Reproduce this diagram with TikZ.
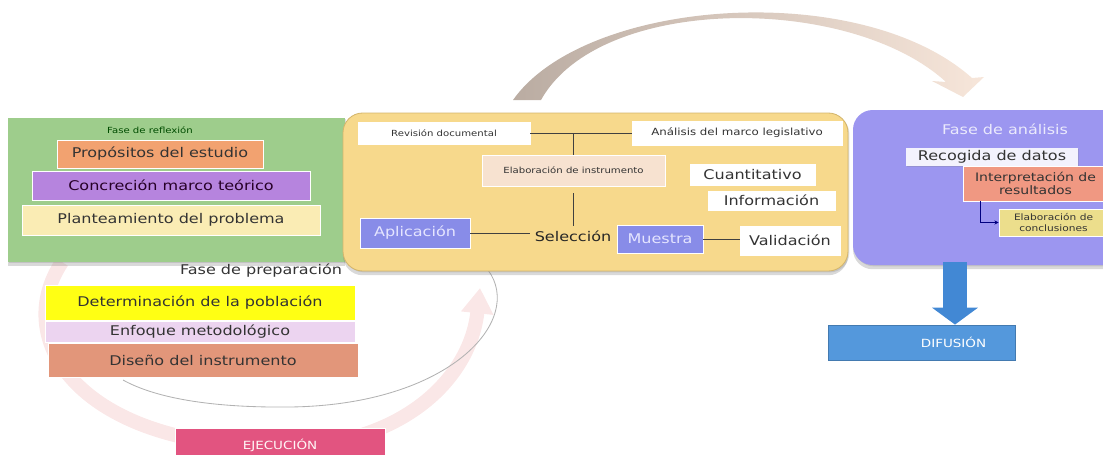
\documentclass[tikz,border=0pt]{standalone}
\usepackage{fontspec}
\setmainfont{DejaVu Sans}[FakeStretch=1.2]
\usetikzlibrary{arrows.meta,shadows}

\definecolor{reflexGreen}{RGB}{158,205,140}
\definecolor{propOrange}{RGB}{242,162,112}
\definecolor{concPurple}{RGB}{182,132,222}
\definecolor{plantCream}{RGB}{250,236,180}
\definecolor{poblYellow}{RGB}{255,255,20}
\definecolor{enfLilac}{RGB}{236,212,240}
\definecolor{disSalmon}{RGB}{226,150,122}
\definecolor{ejecPink}{RGB}{226,84,128}
\definecolor{selYellow}{RGB}{247,217,140}
\definecolor{selBorder}{RGB}{212,182,108}
\definecolor{elabPeach}{RGB}{247,226,208}
\definecolor{aplBlue}{RGB}{136,140,232}
\definecolor{analPurple}{RGB}{156,150,240}
\definecolor{interpSalmon}{RGB}{240,152,130}
\definecolor{conclKhaki}{RGB}{236,222,140}
\definecolor{difBlue}{RGB}{84,152,220}
\definecolor{arrBlue}{RGB}{66,136,212}
\definecolor{pinkArc}{RGB}{250,231,231}
\definecolor{topArcStart}{RGB}{186,172,162}
\definecolor{topArcEnd}{RGB}{247,230,218}

\newcommand{\itemsiz}{\fontsize{9.5}{11}\selectfont}
\newcommand{\smallsiz}{\fontsize{7}{8.5}\selectfont}
\newcommand{\tinysiz}{\fontsize{6}{7}\selectfont}
\newcommand{\capsiz}{\fontsize{8}{9}\selectfont}

% box from (x1,y1) to (x2,y2), coordinates in pixels
\newcommand{\itemBox}[7][]{
    \node[itembox, #1,
          minimum width={(#5-#3)*0.025cm},
          minimum height={(#6-#4)*0.025cm}] (#2) at ({(#3+#5)/2},{(#4+#6)/2}) {#7};
}

\tikzset{
    itembox/.style={draw=white, line width=0.6pt, inner sep=0pt, align=center,
                    font=\itemsiz, text=black!80,
                    drop shadow={opacity=0.25, shadow xshift=1pt, shadow yshift=-1pt}},
    panel/.style={draw=none,
                  drop shadow={opacity=0.3, shadow xshift=0pt, shadow yshift=-3pt}},
    link/.style={black!75, line width=0.6pt}
}

\begin{document}
\begin{tikzpicture}[x=0.025cm,y=-0.025cm]
    \useasboundingbox (0,0) rectangle (1103,454);
    \clip (0,0) rectangle (1103,454);

    % cycle arrow and curve behind the left part
    \draw[line width=10pt, pinkArc, -{Triangle[width=22pt,length=18pt]}]
        (62,262) .. controls (10,340) and (80,447) .. (280,447)
                 .. controls (400,447) and (470,380) .. (480,288);
    \draw[gray!60, line width=0.6pt] (488,270) .. controls (525,320) and (450,405) .. (290,407)
                                     .. controls (200,408) and (150,395) .. (123,380);

    \itemBox[panel, fill=reflexGreen]{reflexion}{8}{118}{345}{262}{}
    \itemBox[panel, fill=selYellow, draw=selBorder, rounded corners=14pt]{seleccion}{343}{113}{848}{271}{}
    \itemBox[panel, fill=analPurple, rounded corners=14pt]{analisis}{853}{110}{1160}{265}{}

    % arrow over the top
    \shade[left color=topArcStart, middle color=gray!25, right color=topArcEnd]
        (513,100) .. controls (585,-2) and (860,-22) .. (972,78)
        -- (984,77) -- (963,97) -- (932,81) -- (946,82)
        .. controls (850,-6) and (600,-6) .. (541,100) -- cycle;

    % Fase de reflexion
    \node[font=\tinysiz, text=green!30!black] (reflexTitle) at (150,130) {Fase de reflexión};
    \itemBox[fill=propOrange]{propositos}{57}{140}{263}{168}{Propósitos del estudio}
    \itemBox[fill=concPurple, text=black!70!violet]{concrecion}{32}{171}{310}{200}{Concreción marco teórico}
    \itemBox[fill=plantCream]{planteamiento}{22}{205}{320}{235}{Planteamiento del problema}

    % Fase de preparacion
    \node[anchor=east, font=\itemsiz, text=black!80] (prepTitle) at (347,271) {Fase de preparación};
    \itemBox[fill=poblYellow]{poblacion}{45}{285}{355}{320}{Determinación de la población}
    \itemBox[fill=enfLilac]{enfoque}{45}{321}{355}{342}{Enfoque metodológico}
    \itemBox[fill=disSalmon]{diseno}{48}{343}{358}{377}{Diseño del instrumento}

    \itemBox[fill=ejecPink, font=\capsiz, text=white!85!pink]{ejecucion}{175}{428}{385}{462}{EJECUCIÓN}

    % panel of the selection
    \itemBox[fill=white, font=\tinysiz]{revision}{358}{122}{530}{144}{Revisión documental}
    \itemBox[fill=white, font=\smallsiz]{marco}{632}{121}{842}{145}{Análisis del marco legislativo}
    \itemBox[fill=elabPeach, font=\tinysiz]{elaboracion}{482}{155}{665}{186}{Elaboración de instrumento}
    \itemBox[fill=white]{cuantitativo}{690}{164}{815}{185}{Cuantitativo}
    \itemBox[fill=white]{informacion}{708}{191}{835}{210}{Información}
    \itemBox[fill=aplBlue, text=white!90!blue]{aplicacion}{360}{218}{470}{248}{Aplicación}
    \node[font=\itemsiz, text=black!85] (sel) at (573,236) {Selección};
    \itemBox[fill=aplBlue, text=white!90!blue]{muestra}{617}{225}{703}{253}{Muestra}
    \itemBox[fill=white]{validacion}{740}{226}{840}{255}{Validación}

    \draw[link] (revision.east) -- (revision.east -| marco.west);
    \draw[link] (elaboracion.north |- revision.east) -- (elaboracion.north);
    \draw[link, shorten <=5pt] (elaboracion.south) -- (elaboracion.south |- sel.north);
    \draw[link] (aplicacion.east) -- (aplicacion.east -| sel.west);
    \draw[link] (muestra.east) -- (muestra.east -| validacion.west);

    % Fase de analisis
    \node[font=\itemsiz, text=white!80!analPurple] (analTitle) at (1005,129) {Fase de análisis};
    \itemBox[fill=white!88!analPurple, draw=none]{recogida}{906}{148}{1078}{166}{Recogida de datos}
    \itemBox[fill=interpSalmon, font=\fontsize{8.3}{9.5}\selectfont]{interpretacion}{963}{166}{1108}{201}{Interpretación de\\resultados}
    \itemBox[fill=conclKhaki, font=\fontsize{6.3}{7.5}\selectfont]{conclusiones}{999}{209}{1108}{236}{Elaboración de\\conclusiones}
    \coordinate (interpFoot) at (980,201);
    \draw[blue!50!black, line width=0.6pt, -{Stealth[length=3pt,width=3pt]}] (interpFoot) |- (conclusiones.west);

    % difusion
    \itemBox[fill=difBlue, draw=difBlue!80!black, font=\capsiz, text=white]{difusion}{828}{325}{1015}{360}{\hspace{1.6cm}DIFUSIÓN}
    \coordinate (arrowTop) at (955,262);
    \draw[arrBlue, line width=17pt, -{Triangle[width=32pt,length=12pt]}] (arrowTop) -- (arrowTop |- difusion.north);
\end{tikzpicture}
\end{document}
